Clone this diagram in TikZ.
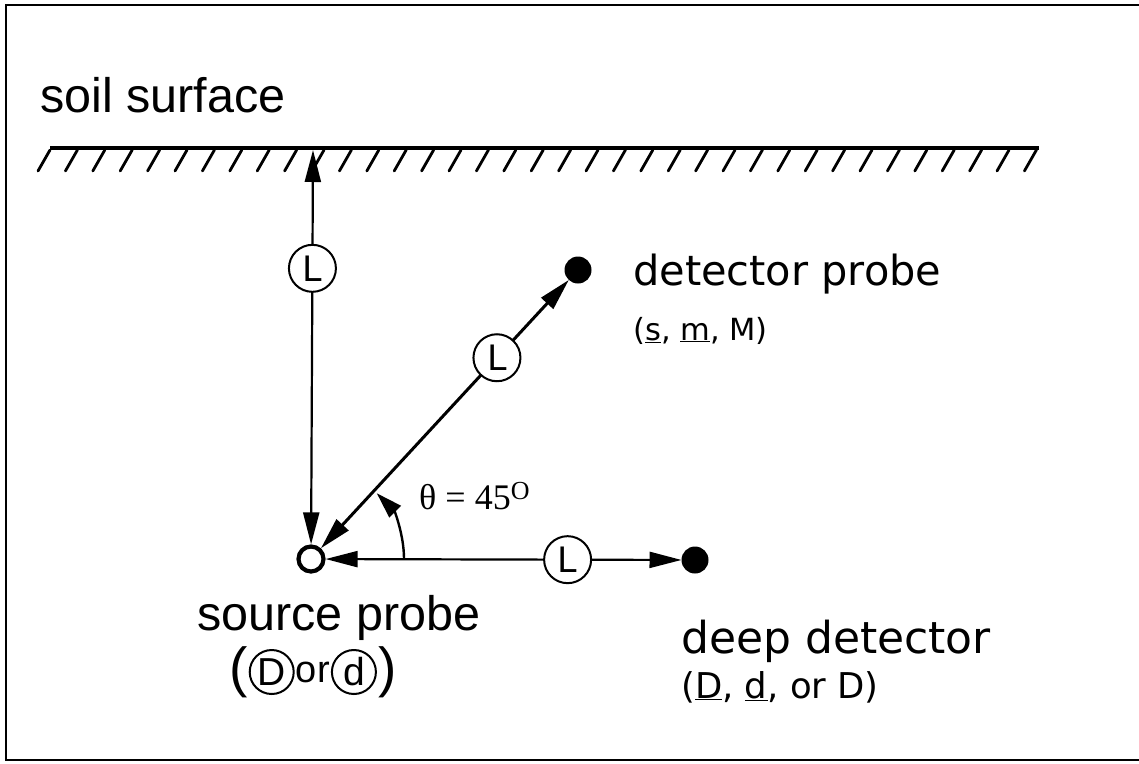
\documentclass[tikz,border=0pt]{standalone}
\usepackage{fontspec}
\setmainfont{Liberation Sans}
\newfontfamily\genevafont{DejaVu Sans}
\newfontfamily\timesfont{Liberation Serif}
\usetikzlibrary{arrows.meta,positioning}

\begin{document}
\begin{tikzpicture}[
  x=1pt, y=-1pt,
  frame/.style={draw=black, line width=2.5pt},
  ground/.style={draw=black, line width=4.5pt},
  hatch/.style={draw=black, line width=2.8pt, line cap=round},
  probe/.style={circle, fill=black, minimum size=27pt, inner sep=0pt, outer sep=0pt},
  source/.style={circle, draw=black, fill=white, line width=4.2pt, minimum size=25pt, inner sep=0pt},
  lmark/.style={
    circle,
    draw=black,
    fill=white,
    line width=2pt,
    minimum size=47pt,
    inner sep=0pt,
    font=\genevafont\fontsize{35}{35}\selectfont
  },
  cmark/.style={lmark, minimum size=44pt, font=\fontsize{39}{39}\selectfont},
  span/.style={
    {Triangle[length=32pt,width=16pt]}-{Triangle[length=32pt,width=16pt]},
    draw=black, line width=2.2pt
  },
  angle arrow/.style={-{Triangle[length=26pt,width=16pt]}, draw=black, line width=2.4pt},
  bigtext/.style={font=\fontsize{48.5}{50}\selectfont, inner sep=0pt},
  paren/.style={font=\fontsize{55}{55}\selectfont, inner sep=0pt},
  ortext/.style={font=\fontsize{38}{38}\selectfont, inner sep=1pt},
  probetext/.style={font=\genevafont\fontsize{41.5}{44}\selectfont, inner sep=0pt},
  subtext/.style={font=\genevafont\fontsize{33}{34}\selectfont, inner sep=0pt},
  angletext/.style={font=\timesfont\fontsize{36}{38}\selectfont, inner sep=0pt}
]

\useasboundingbox (0,0) rectangle (1139,763);

% frame, open on the right
\draw[frame] (1139,5) -- (6,5) -- (6,760) -- (1139,760);

% soil surface
\node[bigtext, anchor=base west] (soil) at (40,112) {soil surface};
\draw[ground] (50,148) -- (1039,148);
\foreach \hx in {50,77.4,...,1040}
  \draw[hatch] (\hx,150) -- ++(-12,21);
\coordinate (surface) at (313,150);

% probes
\node[source] (src) at (311,559) {};
\node[probe] (det) at (578,270) {};
\node[probe] (deep) at (695,560) {};

% spacings
\draw[span] (surface) -- node[lmark, pos=0.30] {L} (src);
\draw[span, line width=3pt] (src) -- node[lmark, pos=0.71] {L} (det);
\draw[span] (src) -- node[lmark, pos=0.68] {L} (deep);

% angle
\draw[angle arrow] (src.center) ++(93pt,0pt) arc[start angle=0, end angle=45, radius=93pt];
\node[angletext, anchor=base west] (theta) at (419,509) {θ = 45\raisebox{0.6ex}{\fontsize{26}{26}\selectfont O}};

% labels
\node[probetext, anchor=base west] (dettext) at (633,285) {detector probe};
\node[subtext, font=\genevafont\fontsize{30.5}{32}\selectfont, anchor=base west] (detsub)
  at ([yshift=-55pt]dettext.base west) {(\underline{s}, \underline{m}, M)};

\node[probetext, font=\genevafont\fontsize{44}{46}\selectfont, anchor=base west] (deeptext)
  at (681,653) {deep detector};
\node[subtext, font=\genevafont\fontsize{35.5}{37}\selectfont, anchor=base west] (deepsub)
  at ([yshift=-45pt]deeptext.base west) {(\underline{D}, \underline{d}, or D)};

\node[bigtext, anchor=base west] (srctext) at (197,630) {source probe};
\node[paren, anchor=west] (lparen) at (229,672) {(};
\node[cmark, right=1pt of lparen] (circD) {D};
\node[ortext, right=0pt of circD] (ortxt) {or};
\node[cmark, right=0pt of ortxt] (circd) {d};
\node[paren, right=1pt of circd] (rparen) {)};

\end{tikzpicture}
\end{document}
